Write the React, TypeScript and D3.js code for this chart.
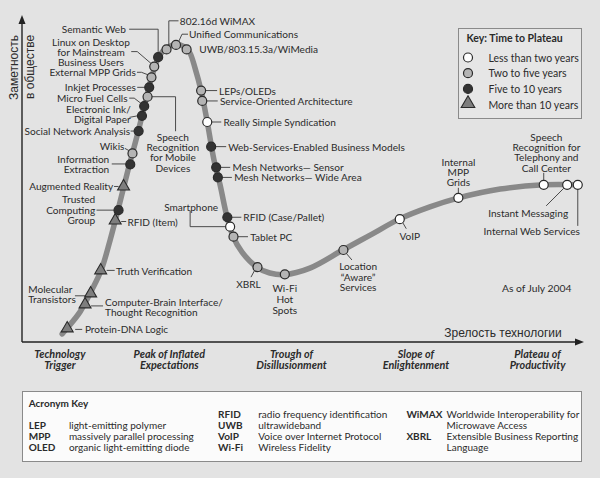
import { useEffect, useRef } from "react";
import * as d3 from "d3";

// technologies along the hype cycle (maturity / visibility 0..100)
const techNames = [
  "Protein-DNA Logic",
  "Computer-Brain Interface/\nThought Recognition",
  "Molecular\nTransistors",
  "Truth Verification",
  "RFID (Item)",
  "Trusted\nComputing\nGroup",
  "Augmented Reality",
  "Information\nExtraction",
  "Wikis",
  "Social Network Analysis",
  "Electronic Ink/\nDigital Paper",
  "Micro Fuel Cells",
  "Speech\nRecognition\nfor Mobile\nDevices",
  "Inkjet Processes",
  "External MPP Grids",
  "Linux on Desktop\nfor Mainstream\nBusiness Users",
  "Semantic Web",
  "802.16d WiMAX",
  "Unified Communications",
  "UWB/803.15.3a/WiMedia",
  "LEPs/OLEDs",
  "Service-Oriented Architecture",
  "Really Simple Syndication",
  "Web-Services-Enabled Business Models",
  "Mesh Networks\u2014 Sensor",
  "Mesh Networks\u2014 Wide Area",
  "RFID (Case/Pallet)",
  "Smartphone",
  "Tablet PC",
  "XBRL",
  "Wi-Fi\nHot\nSpots",
  "Location\n\u201CAware\u201D\nServices",
  "VoIP",
  "Internal\nMPP\nGrids",
  "Speech\nRecognition for\nTelephony and\nCall Center",
  "Instant Messaging",
  "Internal Web Services",
];
const techMaturity = [
  8.1, 11.3, 12.3, 14.1, 16.7, 17.3, 18.2, 19.4, 19.8, 20.9, 21.5, 21.9, 22.5,
  22.8, 23.2, 23.7, 24.4, 25.9, 27.6, 29.5, 32.1, 32.3, 33.2, 33.9, 34.8, 35.1,
  36.8, 37.3, 37.9, 42.2, 47.1, 57.6, 67.7, 78.2, 93.5, 97.7, 99.6,
];
const techVisibility = [
  4.2, 11.6, 15.0, 22.1, 37.5, 40.7, 48.0, 54.8, 58.2, 65.1, 69.8, 72.8, 75.7,
  78.6, 81.7, 85.0, 87.9, 90.3, 91.7, 90.3, 77.6, 74.4, 67.9, 60.3, 53.9, 50.8,
  38.5, 35.6, 32.5, 23.1, 20.9, 28.4, 37.9, 44.5, 48.5, 48.5, 48.5,
];
// 0 = less than two years, 1 = two to five, 2 = five to 10, 3 = more than 10
const techPlateau = [
  3, 3, 3, 3, 3, 2, 3, 2, 1, 2, 2, 2, 1, 2, 1, 1, 2, 1, 1, 1, 1, 1, 0, 2, 2, 2,
  2, 0, 1, 1, 1, 1, 0, 0, 0, 0, 0,
];

// the cycle curve itself
const curveMaturity = [
  7.2, 8.1, 10.4, 12.5, 14.2, 15.8, 17.2, 19.0, 20.8, 22.2, 23.3, 24.7, 26.2,
  27.6, 29.2, 30.1, 31.0, 32.1, 33.2, 34.4, 35.5, 36.7, 37.8, 39.4, 42.1, 44.4,
  47.1, 51.6, 57.5, 62.4, 67.7, 73.1, 78.1, 85.7, 93.5, 99.6,
];
const curveVisibility = [
  2.5, 4.3, 9.3, 16.0, 22.2, 31.5, 40.7, 53.1, 64.8, 74.7, 82.1, 88.6, 91.0,
  91.8, 91.0, 89.2, 84.6, 77.5, 67.9, 56.2, 48.5, 38.9, 32.7, 27.8, 23.1, 21.3,
  20.8, 22.8, 28.4, 33.0, 38.0, 41.7, 44.4, 47.2, 48.5, 48.5,
];

const phaseNames = [
  "Technology\nTrigger",
  "Peak of Inflated\nExpectations",
  "Trough of\nDisillusionment",
  "Slope of\nEnlightenment",
  "Plateau of\nProductivity",
];
const phaseMaturity = [6.8, 26.4, 48.3, 70.6, 92.4];

const plateauLabels = [
  "Less than two years",
  "Two to five years",
  "Five to 10 years",
  "More than 10 years",
];

const acronyms = ["LEP", "MPP", "OLED", "RFID", "UWB", "VoIP", "Wi-Fi", "WiMAX", "XBRL"];
const acronymMeanings = [
  "light-emitting polymer",
  "massively parallel processing",
  "organic light-emitting diode",
  "radio frequency identification",
  "ultrawideband",
  "Voice over Internet Protocol",
  "Wireless Fidelity",
  "Worldwide Interoperability for\nMicrowave Access",
  "Extensible Business Reporting\nLanguage",
];

// layout of the labels, relative to their marker (pixels)
type Lay = { a: string; dx: number; dy: number; lh?: number; lead?: number[][] };
const labelLayout: Lay[] = [
  { a: "start", dx: 17.7, dy: 1, lead: [[8, 1], [15, 1]] },
  { a: "start", dx: 20, dy: -2.8, lead: [[6, 1.5], [18, 1.5]] },
  { a: "start", dx: -62.4, dy: -4.6, lead: [[-15.7, 2.4], [-3, 2.4]] },
  { a: "start", dx: 15.3, dy: 0.4, lead: [[6, 0], [14, 0]] },
  { a: "start", dx: 12.3, dy: 1.5, lead: [[6, 1], [11, 1]] },
  { a: "end", dx: -23.3, dy: -10.7, lead: [[-22, 0], [-4.5, 0]] },
  { a: "end", dx: -10.4, dy: -0.5, lead: [[-9.5, 0], [-5, 0]] },
  { a: "end", dx: -21, dy: -5.3, lead: [[-18.5, -0.5], [-4.5, -0.5]] },
  { a: "end", dx: -8, dy: -7.5, lead: [[-7.5, -5], [-3.5, -2.8]] },
  { a: "end", dx: -8.5, dy: -0.3, lead: [[-8, 0], [-4.5, 0]] },
  { a: "end", dx: -11.2, dy: -7, lead: [[-12.5, 1.5], [-4.5, 0]] },
  { a: "end", dx: -16.6, dy: -8.3, lead: [[-15, -8], [-10, -8], [-3.5, -3]] },
  { a: "middle", dx: 25.3, dy: 40, lead: [[4.5, 0], [28, 0], [28, 34.5]] },
  { a: "end", dx: -13.3, dy: -0.6, lead: [[-12, 0], [-4.5, 0]] },
  { a: "end", dx: -15.7, dy: -5, lead: [[-14.5, -5], [-10, -5], [-3.5, -2.5]] },
  { a: "middle", dx: -63.3, dy: -25, lead: [[-23, -15], [-17, -15], [-3, -3]] },
  { a: "end", dx: -32.3, dy: -28, lead: [[-29, -28], [0, -28], [0, -4.5]] },
  { a: "start", dx: 13.3, dy: -28.6, lead: [[12, -28.6], [2.3, -28.6], [2.3, -4.3]] },
  { a: "start", dx: 13, dy: -10.7, lead: [[12, -10.7], [6, -10.7], [3, -4]] },
  { a: "start", dx: 12.6, dy: 0 },
  { a: "start", dx: 18, dy: 0, lead: [[4.5, 0], [16, 0]] },
  { a: "start", dx: 17.7, dy: 0, lead: [[4.5, 0], [15.5, 0]] },
  { a: "start", dx: 16.3, dy: 0, lead: [[4.5, 0], [14, 0]] },
  { a: "start", dx: 17, dy: 0, lead: [[4.5, 0], [15, 0]] },
  { a: "start", dx: 16.3, dy: 0, lead: [[4.5, 0], [14, 0]] },
  { a: "start", dx: 16.3, dy: 0, lead: [[4.5, 0], [14, 0]] },
  { a: "start", dx: 16, dy: -0.6, lead: [[4.5, 0], [14, 0]] },
  { a: "end", dx: -12, dy: -20, lead: [[-4.5, 0], [-40, 0], [-40, -16]] },
  { a: "start", dx: 16.7, dy: 0, lead: [[4.5, 0], [14.5, 0]] },
  { a: "middle", dx: -9, dy: 16.7, lead: [[-3, 3.5], [-6.5, 10]] },
  { a: "middle", dx: 0, dy: 13.7, lh: 11 },
  { a: "middle", dx: 14.7, dy: 16.3, lead: [[3, 3.5], [8.5, 10]] },
  { a: "middle", dx: 10, dy: 16.7, lead: [[3, 3.5], [6.5, 9.5]] },
  { a: "middle", dx: 0, dy: -36, lead: [[0, -4.5], [0, -10]] },
  { a: "middle", dx: 2.7, dy: -48, lead: [[0, -4.5], [0, -12]] },
  { a: "middle", dx: -39, dy: 28, lead: [[-3.5, 3.5], [-21, 21]] },
  { a: "middle", dx: -46, dy: 46, lead: [[0, 4.5], [0, 41]] },
];
const acronymSlots = [[0, 1], [0, 2], [0, 3], [1, 0], [1, 1], [1, 2], [1, 3], [2, 0], [2, 2]];

const W = 600;
const H = 478;
const FONT = "Lato, 'Open Sans', sans-serif";
const INK = "#2b2b2b";
const plateauFill = ["#ffffff", "#b4b4b4", "#333333", "#7e7e7e"];

type Sel = d3.Selection<any, unknown, null, undefined>;

function multiText(g: Sel, str: string, tx: number, ty: number, anchor: string, lh: number) {
  const t = g
    .append("text")
    .attr("text-anchor", anchor)
    .attr("dominant-baseline", "central");
  str.split("\n").forEach((line, i) => {
    t.append("tspan").attr("x", tx).attr("y", ty + i * lh).text(line);
  });
  return t;
}

function drawMarker(g: Sel, cat: number, cx: number, cy: number, big = false) {
  if (cat === 3) {
    g.append("path")
      .attr("d", d3.symbol(d3.symbolTriangle, big ? 80 : 62)())
      .attr("transform", `translate(${cx},${cy})`)
      .attr("fill", plateauFill[3])
      .attr("stroke", "#2a2a2a")
      .attr("stroke-width", 1.1);
  } else {
    g.append("circle")
      .attr("cx", cx)
      .attr("cy", cy)
      .attr("r", 4.5)
      .attr("fill", plateauFill[cat])
      .attr("stroke", "#2a2a2a")
      .attr("stroke-width", 1.2);
  }
}

function drawChart(el: SVGSVGElement) {
  const svg = d3.select(el);
  svg.selectAll("*").remove();
  svg.append("rect").attr("width", W).attr("height", H).attr("fill", "#e3e3e3");

  const x = d3.scaleLinear().domain([0, 100]).range([22, 580]);
  const y = d3.scaleLinear().domain([0, 100]).range([342, 18]);

  const g = svg.append("g").attr("font-family", FONT).attr("fill", INK);

  // axes with arrows
  g.append("line")
    .attr("x1", x(0)).attr("y1", y(0)).attr("x2", x(0)).attr("y2", y(100) + 4)
    .attr("stroke", "#222").attr("stroke-width", 1.4);
  g.append("path")
    .attr("d", `M${x(0) - 3.5},${y(100) + 6}L${x(0)},${y(100) - 3}L${x(0) + 3.5},${y(100) + 6}Z`)
    .attr("fill", "#222");
  g.append("line")
    .attr("x1", x(0)).attr("y1", y(0)).attr("x2", x(100) - 2).attr("y2", y(0))
    .attr("stroke", "#222").attr("stroke-width", 1.4);
  g.append("path")
    .attr("d", `M${x(100) - 5},${y(0) - 3.5}L${x(100) + 4},${y(0)}L${x(100) - 5},${y(0) + 3.5}Z`)
    .attr("fill", "#222");

  // axis titles
  g.append("text")
    .attr("transform", `translate(13.5,100) rotate(-90)`)
    .attr("dominant-baseline", "central")
    .attr("font-family", "'Liberation Sans', Arial, sans-serif")
    .attr("font-size", 12)
    .text("Заметность");
  g.append("text")
    .attr("transform", `translate(30,99) rotate(-90)`)
    .attr("dominant-baseline", "central")
    .attr("font-family", "'Liberation Sans', Arial, sans-serif")
    .attr("font-size", 12)
    .text("в обществе");
  g.append("text")
    .attr("x", 503)
    .attr("y", 333)
    .attr("text-anchor", "middle")
    .attr("dominant-baseline", "central")
    .attr("font-family", "'Liberation Sans', Arial, sans-serif")
    .attr("font-size", 12)
    .text("Зрелость технологии");

  // the curve
  const line = d3
    .line<number>()
    .x((_, i) => x(curveMaturity[i]))
    .y((_, i) => y(curveVisibility[i]))
    .curve(d3.curveCatmullRom.alpha(0.5));
  g.append("path")
    .datum(curveMaturity)
    .attr("d", line)
    .attr("fill", "none")
    .attr("stroke", "#898989")
    .attr("stroke-width", 5.5)
    .attr("stroke-linecap", "round");

  // leaders
  const leadLine = d3.line<number[]>().x((d) => d[0]).y((d) => d[1]);
  techNames.forEach((_, i) => {
    const L = labelLayout[i];
    if (!L.lead) return;
    const mx = x(techMaturity[i]);
    const my = y(techVisibility[i]);
    g.append("path")
      .attr("d", leadLine(L.lead.map((p) => [mx + p[0], my + p[1]])))
      .attr("fill", "none")
      .attr("stroke", "#3a3a3a")
      .attr("stroke-width", 0.9);
  });

  // markers
  techNames.forEach((_, i) => {
    drawMarker(g, techPlateau[i], x(techMaturity[i]), y(techVisibility[i]));
  });

  // labels
  const labels = g.append("g").attr("font-size", 10.1);
  techNames.forEach((name, i) => {
    const L = labelLayout[i];
    const mx = x(techMaturity[i]);
    const my = y(techVisibility[i]);
    multiText(labels, name, mx + L.dx, my + L.dy, L.a, L.lh ?? 10.3);
  });

  g.append("text")
    .attr("x", 536.7)
    .attr("y", 287.7)
    .attr("text-anchor", "middle")
    .attr("dominant-baseline", "central")
    .attr("font-size", 10.3)
    .text("As of July 2004");

  // phases under the axis
  const phases = g
    .append("g")
    .attr("font-size", 10.8)
    .attr("font-weight", "bold")
    .attr("font-style", "italic");
  phaseNames.forEach((p, i) => {
    multiText(phases, p, x(phaseMaturity[i]), y(0) + 10.5, "middle", 11);
  });

  // key: time to plateau
  const key = g.append("g");
  key.append("rect")
    .attr("x", 458.5).attr("y", 28.5).attr("width", 123).attr("height", 90)
    .attr("fill", "#e6e6e6").attr("stroke", "#8a8a8a").attr("stroke-width", 1);
  key.append("text")
    .attr("x", 466.5).attr("y", 38)
    .attr("dominant-baseline", "central")
    .attr("font-size", 10.5).attr("font-weight", "bold")
    .text("Key: Time to Plateau");
  plateauLabels.forEach((lab, i) => {
    const ky = 57.5 + i * 15.7;
    drawMarker(key, i, 468, i === 3 ? ky - 1 : ky, true);
    key.append("text")
      .attr("x", 488.5).attr("y", ky)
      .attr("dominant-baseline", "central")
      .attr("font-size", 10.5)
      .text(lab);
  });

  // acronym key
  const ak = g.append("g");
  ak.append("rect")
    .attr("x", 22.5).attr("y", 391.5).attr("width", 559).attr("height", 70)
    .attr("fill", "#fbfbfb").attr("stroke", "#8a8a8a").attr("stroke-width", 1);
  ak.append("text")
    .attr("x", 28.7).attr("y", 402.7)
    .attr("dominant-baseline", "central")
    .attr("font-size", 10).attr("font-weight", "bold")
    .text("Acronym Key");
  const colAbbr = [28.7, 218.1, 406.4];
  const colDef = [68.9, 258.3, 446.6];
  acronyms.forEach((a, i) => {
    const [c, r] = acronymSlots[i];
    const ry = 413.7 + r * 11.2;
    ak.append("text")
      .attr("x", colAbbr[c]).attr("y", ry)
      .attr("dominant-baseline", "central")
      .attr("font-size", 10).attr("font-weight", "bold")
      .text(a);
    multiText(ak, acronymMeanings[i], colDef[c], ry, "start", 11.2).attr("font-size", 10);
  });
}

export default function App() {
  const ref = useRef<SVGSVGElement>(null);

  useEffect(() => {
    if (ref.current) drawChart(ref.current);
  }, []);

  return (
    <svg
      ref={ref}
      width={W}
      height={H}
      style={{ position: "absolute", left: 0, top: 0, display: "block" }}
    />
  );
}
